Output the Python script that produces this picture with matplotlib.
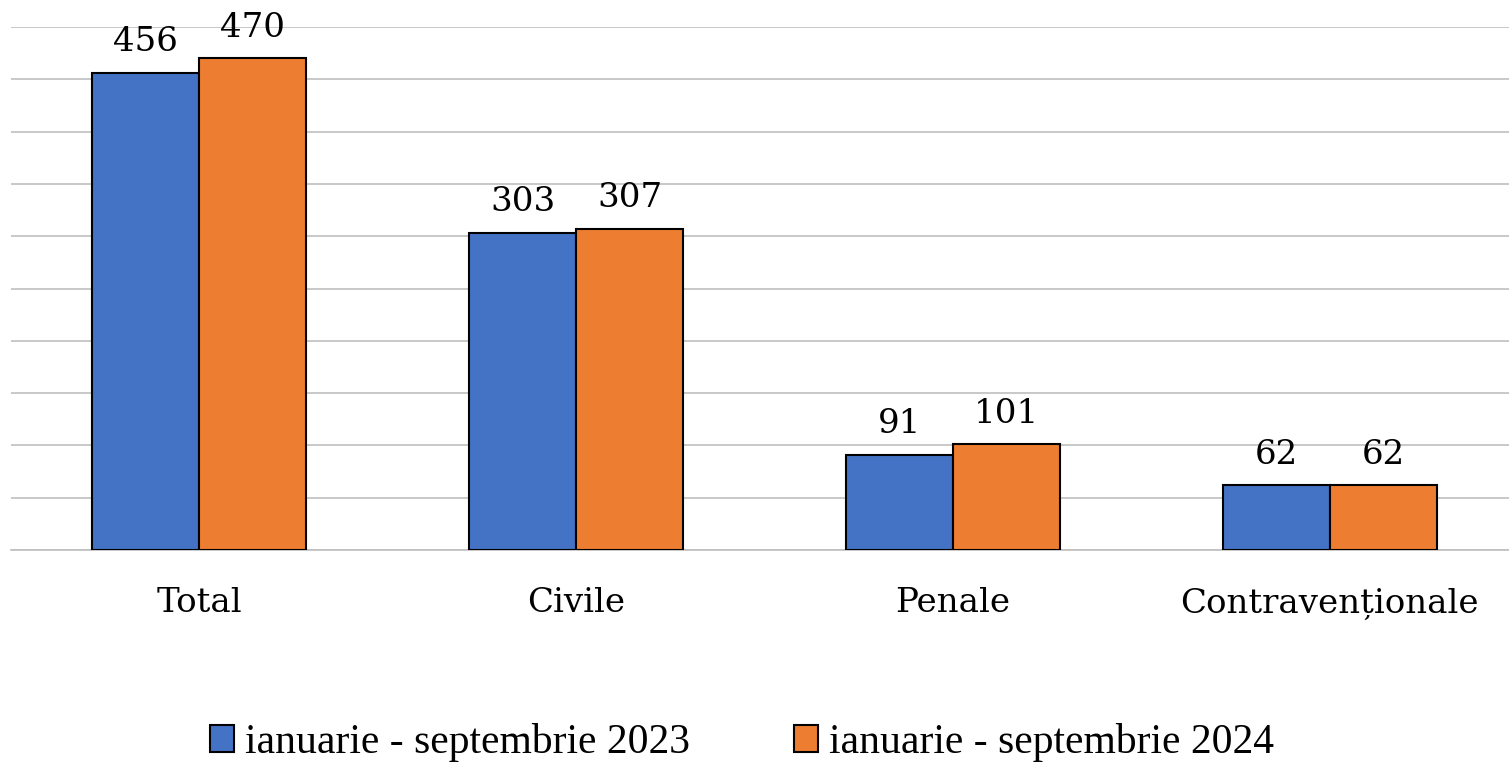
import matplotlib
matplotlib.use("Agg")
import matplotlib.pyplot as plt
import numpy as np

categories = ["Total", "Civile", "Penale", "Contravenționale"]
series_names = ["ianuarie - septembrie 2023", "ianuarie - septembrie 2024"]
values_2023 = [456, 303, 91, 62]
values_2024 = [470, 307, 101, 62]
colors = ["#4472C4", "#ED7D31"]

plt.rcParams['font.family'] = ['DejaVu Serif']

fig = plt.figure(figsize=(15.09, 7.64), dpi=100)
ax = fig.add_axes([11/1509, 214/764, 1507/1509, 523/764])

x = np.arange(len(categories))
w = 0.284
b1 = ax.bar(x - w/2, values_2023, w, color=colors[0], edgecolor="black", linewidth=1.5, label=series_names[0], zorder=3)
b2 = ax.bar(x + w/2, values_2024, w, color=colors[1], edgecolor="black", linewidth=1.5, label=series_names[1], zorder=3)

for bars, vals in ((b1, values_2023), (b2, values_2024)):
    for r, v in zip(bars, vals):
        ax.text(r.get_x() + r.get_width()/2, v + 14, str(v), ha="center", va="bottom", fontsize=24.5, color="black")

ax.set_xlim(-0.5, 3.5)
ax.set_ylim(0, 500)
ax.set_yticks(np.arange(0, 501, 50))
ax.yaxis.grid(True, color="#BFBFBF", linewidth=1.2, zorder=0)
ax.set_yticklabels([])
ax.tick_params(axis="y", length=0)
ax.tick_params(axis="x", length=0, pad=27, labelsize=24.5)
ax.set_xticks(x)
ax.set_xticklabels(categories)
for s in ["top", "right", "left"]:
    ax.spines[s].set_visible(False)
ax.spines["bottom"].set_color("#BFBFBF")
ax.spines["bottom"].set_linewidth(1.2)

fig.legend(handles=[b1, b2], labels=series_names, loc="center", bbox_to_anchor=(742/1509, 1 - 743/764),
           ncol=2, frameon=False, prop={"family": "Liberation Serif", "size": 30},
           handlelength=0.58, handleheight=0.62, handletextpad=0.25, columnspacing=2.5)

fig.savefig("out.png", dpi=100, facecolor="white")
